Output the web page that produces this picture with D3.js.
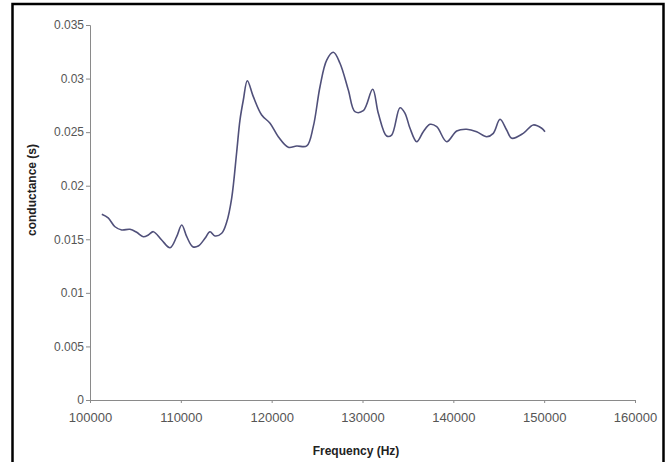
<!DOCTYPE html>
<html>
<head>
<meta charset="utf-8">
<script src="https://cdn.jsdelivr.net/npm/d3@7"></script>
<style>
  body { margin: 0; background: #fff; }
  svg { display: block; }
</style>
</head>
<body>
<div id="chart"></div>
<script>
// frequency (Hz)
const frequency = [
  101300, 102000, 102750, 103490, 104400, 105140, 105870, 106420, 106970, 107890,
  108810, 109540, 110100, 110650, 111310, 111920, 112660, 113210, 113760, 114500,
  115050, 115600, 116150, 116510, 116880, 117320, 117980, 118900, 119820, 120730,
  121830, 122760, 123860, 124580, 125320, 126060, 126790, 127520, 128440, 129170,
  130090, 131120, 131740, 132660, 133210, 134130, 134680, 135230, 135970, 136690,
  137430, 138170, 139270, 140370, 141470, 142570, 143670, 144400, 145140, 145870,
  146430, 147700, 148800, 149730, 150090
];
// conductance (s)
const conductance = [
  0.01733, 0.01699, 0.01617, 0.01587, 0.01593, 0.01565, 0.01524, 0.0154, 0.01571, 0.01493,
  0.01421, 0.01524, 0.01633, 0.01524, 0.01431, 0.01437, 0.01509, 0.01571, 0.01531, 0.01556,
  0.01661, 0.01885, 0.02315, 0.02613, 0.028, 0.0298, 0.02831, 0.0266, 0.02583, 0.02457,
  0.02359, 0.02371, 0.02371, 0.02551, 0.02924, 0.03173, 0.03245, 0.03143, 0.02893, 0.02691,
  0.027, 0.029, 0.02676, 0.02464, 0.02473, 0.02728, 0.02676, 0.02536, 0.02411, 0.02504,
  0.02573, 0.02551, 0.02411, 0.02511, 0.02527, 0.02504, 0.02457, 0.02489, 0.0262, 0.0252,
  0.02443, 0.02489, 0.02567, 0.02536, 0.02504
];
const xTicks = [100000, 110000, 120000, 130000, 140000, 150000, 160000];
const yTicks = [0, 0.005, 0.01, 0.015, 0.02, 0.025, 0.03, 0.035];

const width = 667, height = 462;
const margin = { left: 90, right: 32, top: 25, bottom: 62 };

const svg = d3.select("#chart").append("svg")
  .attr("width", width)
  .attr("height", height);

// outer frame
svg.append("rect")
  .attr("x", 12.5)
  .attr("y", 4)
  .attr("width", 651)
  .attr("height", 470)
  .attr("fill", "none")
  .attr("stroke", "#000")
  .attr("stroke-width", 2.5);

const x = d3.scaleLinear()
  .domain([100000, 160000])
  .range([margin.left, width - margin.right]);

const y = d3.scaleLinear()
  .domain([0, 0.035])
  .range([height - margin.bottom, margin.top]);

const font = "Arial, 'Liberation Sans', sans-serif";

// x axis
const xAxis = svg.append("g")
  .attr("transform", `translate(0,${y(0)})`)
  .call(d3.axisBottom(x).tickValues(xTicks).tickFormat(d3.format("d")).tickSize(3).tickPadding(10));

// y axis
const yAxis = svg.append("g")
  .attr("transform", `translate(${x(100000)},0)`)
  .call(d3.axisLeft(y).tickValues(yTicks).tickFormat(d => d === 0 ? "0" : d3.format("")(+d.toFixed(3))).tickSize(4).tickPadding(2));

[xAxis, yAxis].forEach(g => {
  g.select(".domain").attr("stroke", "#8a8a8a");
  g.selectAll(".tick line").attr("stroke", "#8a8a8a");
  g.selectAll(".tick text")
    .attr("fill", "#555")
    .style("font-family", font)
    .style("font-size", "12px");
});
xAxis.selectAll(".tick text").style("font-size", "13px");

// curve
const points = frequency.map((f, i) => [f, conductance[i]]);
const line = d3.line()
  .x(d => x(d[0]))
  .y(d => y(d[1]))
  .curve(d3.curveCatmullRom.alpha(0.5));

svg.append("path")
  .datum(points)
  .attr("fill", "none")
  .attr("stroke", "#50507a")
  .attr("stroke-width", 1.6)
  .attr("d", line);

// axis titles
svg.append("text")
  .attr("x", 356)
  .attr("y", 455)
  .attr("text-anchor", "middle")
  .style("font-family", font)
  .style("font-size", "12px")
  .style("font-weight", "bold")
  .attr("fill", "#222")
  .text("Frequency (Hz)");

svg.append("text")
  .attr("transform", "translate(36,190) rotate(-90)")
  .attr("text-anchor", "middle")
  .style("font-family", font)
  .style("font-size", "12px")
  .style("font-weight", "bold")
  .attr("fill", "#222")
  .text("conductance (s)");
</script>
</body>
</html>
